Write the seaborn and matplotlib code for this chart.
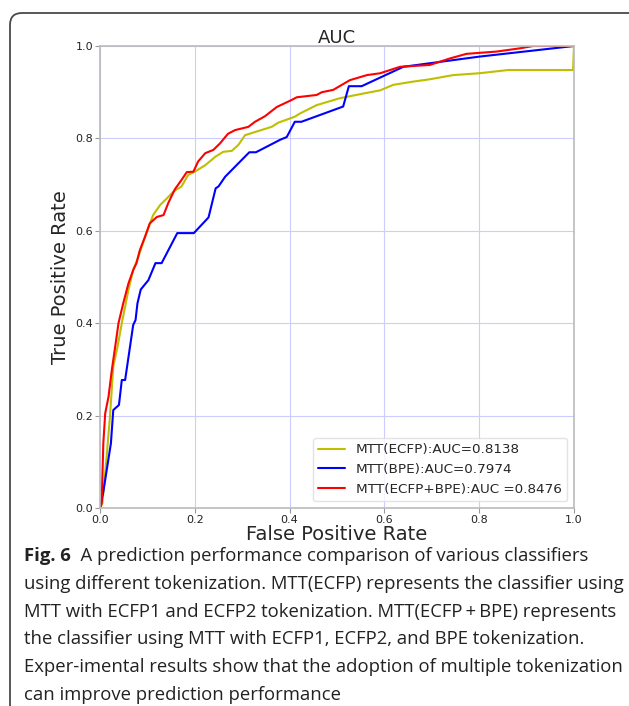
import numpy as np
import pandas as pd
import matplotlib
matplotlib.use("Agg")
import matplotlib.pyplot as plt
import seaborn as sns
from matplotlib.patches import FancyBboxPatch
from matplotlib.transforms import IdentityTransform

# ---------------- data ----------------
labels = ["MTT(ECFP):AUC=0.8138", "MTT(BPE):AUC=0.7974", "MTT(ECFP+BPE):AUC =0.8476"]
colors = ["#bfbf00", "#0000ff", "#ff0000"]

ecfp_fpr = [0.0, 0.005, 0.014, 0.021, 0.028, 0.037, 0.046, 0.060, 0.070, 0.081, 0.095,
            0.112, 0.127, 0.141, 0.155, 0.172, 0.186, 0.200, 0.222, 0.243, 0.260, 0.278,
            0.292, 0.306, 0.334, 0.362, 0.376, 0.411, 0.422, 0.457, 0.506, 0.555, 0.591,
            0.619, 0.661, 0.696, 0.745, 0.800, 0.861, 0.998, 1.0]
ecfp_tpr = [0.0, 0.010, 0.111, 0.198, 0.306, 0.349, 0.400, 0.472, 0.515, 0.544, 0.587,
            0.634, 0.656, 0.670, 0.685, 0.696, 0.721, 0.728, 0.742, 0.760, 0.771, 0.773,
            0.786, 0.807, 0.816, 0.825, 0.834, 0.847, 0.854, 0.872, 0.887, 0.897, 0.904,
            0.916, 0.923, 0.928, 0.937, 0.941, 0.948, 0.948, 1.0]

bpe_fpr = [0.0, 0.007, 0.023, 0.028, 0.040, 0.046, 0.053, 0.070, 0.075, 0.079, 0.086,
           0.102, 0.117, 0.130, 0.163, 0.198, 0.229, 0.244, 0.250, 0.264, 0.315, 0.329,
           0.380, 0.394, 0.411, 0.425, 0.513, 0.525, 0.552, 0.640, 0.800, 1.0]
bpe_tpr = [0.0, 0.035, 0.140, 0.212, 0.223, 0.277, 0.277, 0.396, 0.407, 0.443, 0.473,
           0.493, 0.530, 0.530, 0.595, 0.595, 0.629, 0.692, 0.696, 0.717, 0.770, 0.770,
           0.797, 0.803, 0.836, 0.836, 0.869, 0.913, 0.913, 0.955, 0.977, 1.0]

comb_fpr = [0.0, 0.0035, 0.007, 0.011, 0.018, 0.025, 0.033, 0.039, 0.049, 0.060, 0.070,
            0.077, 0.084, 0.095, 0.105, 0.120, 0.134, 0.144, 0.158, 0.172, 0.183, 0.197,
            0.207, 0.222, 0.239, 0.253, 0.270, 0.285, 0.313, 0.327, 0.348, 0.373, 0.404,
            0.415, 0.457, 0.468, 0.492, 0.527, 0.563, 0.591, 0.633, 0.696, 0.738, 0.773,
            0.837, 0.886, 0.914, 1.0]
comb_tpr = [0.0, 0.010, 0.140, 0.205, 0.241, 0.299, 0.356, 0.400, 0.443, 0.486, 0.515,
            0.530, 0.558, 0.587, 0.616, 0.630, 0.634, 0.660, 0.690, 0.710, 0.727, 0.728,
            0.750, 0.768, 0.775, 0.789, 0.810, 0.818, 0.825, 0.836, 0.848, 0.868, 0.883,
            0.889, 0.894, 0.900, 0.905, 0.926, 0.937, 0.941, 0.955, 0.959, 0.973, 0.983,
            0.988, 0.995, 1.0, 1.0]

ticks = [0.0, 0.2, 0.4, 0.6, 0.8, 1.0]
tick_labels = ["0.0", "0.2", "0.4", "0.6", "0.8", "1.0"]

caption_bold = "Fig. 6"
caption_first = "  A prediction performance comparison of various classifiers"
caption_lines = [
    "using different tokenization. MTT(ECFP) represents the classifier using",
    "MTT with ECFP1 and ECFP2 tokenization. MTT(ECFP\u2009+\u2009BPE) represents",
    "the classifier using MTT with ECFP1, ECFP2, and BPE tokenization.",
    "Exper-imental results show that the adoption of multiple tokenization",
    "can improve prediction performance",
]

# ---------------- figure ----------------
sns.set_style("white")
plt.rcParams["font.family"] = ["DejaVu Sans"]

W, H = 629, 706
fig = plt.figure(figsize=(W / 100, H / 100), dpi=100)

# outer rounded frame in pixel coordinates (runs off the right and bottom edges)
frame = FancyBboxPatch((10, -60), 720, (H - 13) + 60,
                       boxstyle="round,pad=0,rounding_size=12",
                       transform=IdentityTransform(), fill=False,
                       edgecolor="#4a4a4a", linewidth=1.3, clip_on=False)
fig.patches.append(frame)

ax = fig.add_axes([100 / W, 1 - 508 / H, 474 / W, 462 / H])

for fpr, tpr, lab, col in zip([ecfp_fpr, bpe_fpr, comb_fpr],
                              [ecfp_tpr, bpe_tpr, comb_tpr], labels, colors):
    df = pd.DataFrame({"fpr": fpr, "tpr": tpr})
    sns.lineplot(data=df, x="fpr", y="tpr", color=col, label=lab, sort=False,
                 estimator=None, linewidth=1.5, ax=ax)

ax.set_xlim(0, 1)
ax.set_ylim(0, 1)
ax.set_xticks(ticks)
ax.set_xticklabels(tick_labels)
ax.set_yticks(ticks)
ax.set_yticklabels(tick_labels)
ax.grid(True, color="#ccccff", linewidth=0.8)
ax.set_axisbelow(True)
for sp in ax.spines.values():
    sp.set_color("#bbbbbb")
    sp.set_linewidth(1.2)
ax.tick_params(axis="both", labelsize=8, colors="#222222", length=3.5, width=0.8,
               direction="out", bottom=True, left=True, pad=1.5)
ax.tick_params(axis="both", color="#999999")

ax.set_title("AUC", fontsize=13, pad=2)
ax.set_xlabel("False Positive Rate", fontsize=14, labelpad=0)
ax.set_ylabel("True Positive Rate", fontsize=14, labelpad=4)

leg = ax.legend(loc="lower right", fontsize=9.7, frameon=True, fancybox=True,
                framealpha=0.8, edgecolor="#dddddd")

# ---------------- caption ----------------
x0 = 24 / W
y_first = 1 - 556 / H
dy = 27.8 / H
cap_font = "Open Sans"
cap_size = 13.3
t_bold = fig.text(x0, y_first, caption_bold, fontsize=cap_size, fontweight="bold",
                  family=cap_font, va="center", ha="left", color="#222222")
fig.canvas.draw()
bb = t_bold.get_window_extent(renderer=fig.canvas.get_renderer())
fig.text(bb.x1 / W, y_first, caption_first, fontsize=cap_size, family=cap_font,
         va="center", ha="left", color="#222222")
for i, line in enumerate(caption_lines):
    fig.text(x0, y_first - (i + 1) * dy, line, fontsize=cap_size,
             family=[cap_font, "DejaVu Sans"], va="center", ha="left", color="#222222")

fig.savefig("out.png", dpi=100)
